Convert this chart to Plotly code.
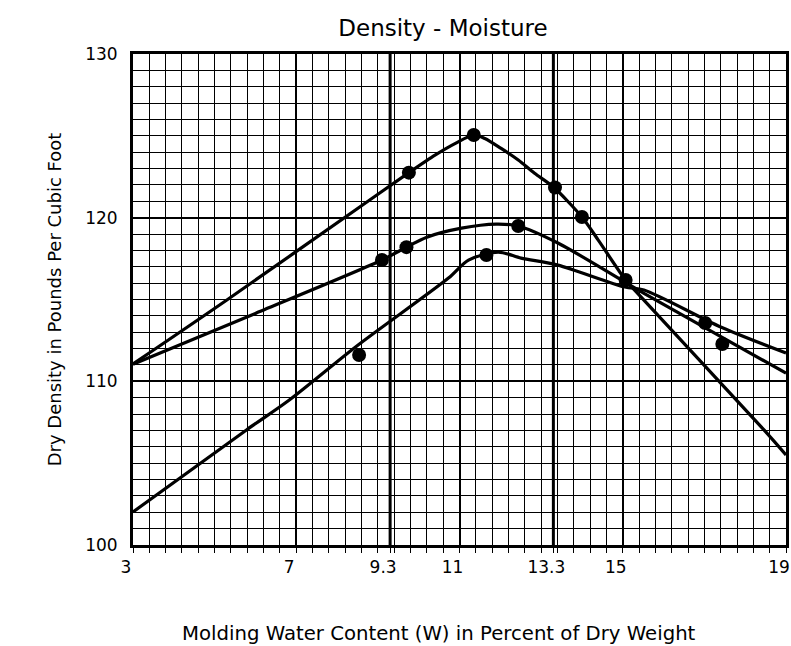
import plotly.graph_objects as go

# Compaction curves: dry density (pcf) vs molding water content (%)
curve_a_w = [3, 5.3, 8.8, 9.76, 10.4, 10.9, 11.35, 11.62, 12.02, 12.44, 12.84, 13.3, 14.0, 14.4, 15.07, 15.36, 18.46, 19]
curve_a_d = [111.06, 114.97, 121.08, 122.75, 123.82, 124.54, 125.05, 124.84, 124.23, 123.52, 122.71, 121.87, 120.04, 118.63, 116.19, 115.39, 107.03, 105.5]

curve_b_w = [3, 6, 9.1, 9.7, 10.2, 11.05, 11.9, 12.44, 13.41, 15.52, 17.0, 19]
curve_b_d = [111.05, 114.15, 117.41, 118.2, 118.81, 119.36, 119.61, 119.49, 118.45, 115.38, 113.3, 110.5]

curve_c_w = [3, 5.78, 6.83, 8.5, 10.73, 11.22, 11.95, 12.51, 13.41, 15.05, 15.52, 17.4, 19]
curve_c_d = [102.02, 107.03, 108.86, 112.19, 116.31, 117.41, 117.9, 117.53, 117.1, 115.76, 115.58, 113.32, 111.73]

# Test points
points_a_w = [9.76, 11.35, 13.34, 14.0, 15.07]
points_a_d = [122.75, 125.05, 121.84, 120.04, 116.19]
points_b_w = [9.1, 9.7, 12.44, 17.02, 17.44]
points_b_d = [117.41, 118.2, 119.49, 113.56, 112.28]
points_c_w = [8.54, 11.66]
points_c_d = [111.61, 117.72]

# Axis ticks and highlighted moisture limits
x_ticks = [3, 7, 9.3, 11, 13.3, 15, 19]
x_tick_text = ["3", "7", "9.3", "11", "13.3", "15", "19"]
y_ticks = [100, 110, 120, 130]
moisture_limits = [9.3, 13.3]

FONT = "DejaVu Sans, Liberation Sans, Arial, sans-serif"

fig = go.Figure()

for w, d in [(curve_a_w, curve_a_d), (curve_b_w, curve_b_d), (curve_c_w, curve_c_d)]:
    fig.add_trace(go.Scatter(
        x=w, y=d, mode="lines",
        line=dict(color="black", width=3.2, shape="spline", smoothing=0.8),
        showlegend=False, hoverinfo="skip",
    ))

for w, d in [(points_a_w, points_a_d), (points_b_w, points_b_d), (points_c_w, points_c_d)]:
    fig.add_trace(go.Scatter(
        x=w, y=d, mode="markers",
        marker=dict(color="black", size=14, symbol="circle"),
        showlegend=False,
    ))

for w in moisture_limits:
    fig.add_shape(type="line", x0=w, x1=w, y0=0, y1=1, yref="paper",
                  line=dict(color="black", width=3), layer="above")

fig.add_annotation(
    text="Molding Water Content (W) in Percent of Dry Weight",
    xref="paper", yref="paper", x=0.468, y=-0.181,
    xanchor="center", yanchor="middle", showarrow=False,
    font=dict(size=19.7),
)

fig.update_layout(
    width=791, height=646,
    margin=dict(l=133, r=2, t=54, b=101),
    paper_bgcolor="white", plot_bgcolor="white",
    font=dict(family=FONT, color="black", size=17),
    title=dict(text="Density - Moisture", x=0.56, xanchor="center",
               y=0.957, yanchor="middle", font=dict(size=23, family=FONT)),
    xaxis=dict(
        range=[3, 19], tickvals=x_ticks, ticktext=x_tick_text,
        showgrid=True, gridcolor="black", gridwidth=1.7,
        ticks="outside", ticklen=5, tickcolor="black", tickwidth=1.4,
        ticklabelshift=-7,
        minor=dict(tick0=3, dtick=0.4, showgrid=True, gridcolor="black",
                   gridwidth=1.4, ticks="outside", ticklen=5,
                   tickcolor="black", tickwidth=1.3),
        showline=True, linecolor="black", linewidth=3, mirror=True,
        zeroline=False,
    ),
    yaxis=dict(
        range=[100, 130], tickvals=y_ticks,
        showgrid=True, gridcolor="black", gridwidth=2.2,
        ticks="", ticklabelstandoff=9,
        minor=dict(tick0=100, dtick=1, showgrid=True, gridcolor="black",
                   gridwidth=1.4),
        showline=True, linecolor="black", linewidth=3, mirror=True,
        zeroline=False,
        title=dict(text="Dry Density in Pounds Per Cubic Foot",
                   font=dict(size=18), standoff=19),
    ),
)

fig.write_html("out.html")
